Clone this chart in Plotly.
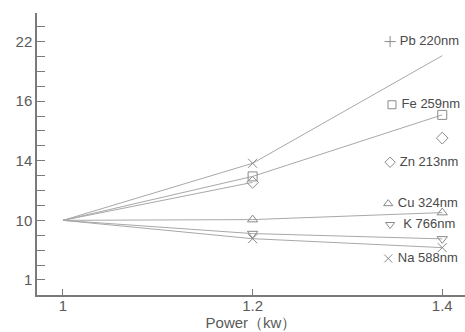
import numpy as np
import plotly.graph_objects as go

# ---- data ----
power = [1.0, 1.2, 1.4]
pb = [10, 13.83, 20.58]
fe = [10, 12.95, 15.54]
zn = [10, 12.55, 14.76]
cu = [10, 10.05, 10.52]
k_ = [10, 8.0, 7.2]
na = [10, 7.23, 5.88]

y_tick_values = [1, 10, 14, 16, 22]
y_tick_labels = ["1", "10", "14", "16", "22"]
x_tick_values = [1.0, 1.2, 1.4]
x_tick_labels = ["1", "1.2", "1.4"]

series_names = ["Pb 220nm", "Fe 259nm", "Zn 213nm", "Cu 324nm", "K 766nm", "Na 588nm"]
series_vals = [pb, fe, zn, cu, k_, na]

# piecewise axis scale (labels are evenly spaced)
pos_idx = list(range(len(y_tick_values)))


def ypos(v):
    return list(np.interp(v, y_tick_values, pos_idx))


LINE = "#a8a8a8"
MARK = "#8a8a8a"
AX = "#7a7a7a"
TXT = "#5a5a5a"
FONT = "Liberation Sans, Arial, sans-serif"

styles = {
    "Pb 220nm": dict(sym="x-thin-open", leg="cross-thin-open", nline=3, mk=[1]),
    "Fe 259nm": dict(sym="square-open", leg="square-open", nline=3, mk=[1, 2]),
    "Zn 213nm": dict(sym="diamond-open", leg="diamond-open", nline=2, mk=[1, 2]),
    "Cu 324nm": dict(sym="triangle-up-open", leg="triangle-up-open", nline=3, mk=[1, 2]),
    "K 766nm": dict(sym="triangle-down-open", leg="triangle-down-open", nline=3, mk=[1, 2]),
    "Na 588nm": dict(sym="x-thin-open", leg="x-thin-open", nline=3, mk=[1, 2]),
}
label_pos = {
    "Pb 220nm": (1.345, 4.0),
    "Fe 259nm": (1.347, 2.94),
    "Zn 213nm": (1.345, 1.975),
    "Cu 324nm": (1.343, 1.28),
    "K 766nm": (1.345, 0.93),
    "Na 588nm": (1.343, 0.36),
}
label_text = {n: (" " + n if n != "K 766nm" else "  " + n) for n in series_names}

fig = go.Figure()
for name, vals in zip(series_names, series_vals):
    st = styles[name]
    yp = ypos(vals)
    n = st["nline"]
    fig.add_trace(go.Scatter(x=power[:n], y=yp[:n], mode="lines",
                             line=dict(color=LINE, width=1), hoverinfo="skip"))
    fig.add_trace(go.Scatter(x=[power[i] for i in st["mk"]], y=[yp[i] for i in st["mk"]],
                             mode="markers",
                             marker=dict(symbol=st["sym"], size=9, color=MARK,
                                         line=dict(color=MARK, width=1))))
    lx, ly = label_pos[name]
    fig.add_trace(go.Scatter(x=[lx], y=[ly], mode="markers+text", text=[label_text[name]],
                             textposition="middle right",
                             textfont=dict(family=FONT, size=13, color="#4a4a4a"),
                             marker=dict(symbol=st["leg"], size=8, color=MARK,
                                         line=dict(color="#666666", width=1)),
                             cliponaxis=False))

fig.update_layout(
    width=465, height=332,
    margin=dict(l=37, r=0, t=13, b=37, autoexpand=False),
    paper_bgcolor="white", plot_bgcolor="white",
    showlegend=False,
    font=dict(family=FONT, size=14, color=TXT),
    xaxis=dict(range=[0.9726, 1.424], tickvals=x_tick_values, ticktext=x_tick_labels,
               automargin=False, ticklabelstandoff=-4,
               ticks="inside", ticklen=6, tickcolor=AX, showgrid=False, zeroline=False,
               showline=True, linecolor=AX, linewidth=1.5,
               tickfont=dict(size=15, color=TXT),
               title=dict(text="Power\uff08kw\uff09", font=dict(size=15, color=TXT), standoff=0)),
    yaxis=dict(range=[-0.253, 4.48], tickvals=pos_idx, ticktext=y_tick_labels,
               automargin=False,
               ticks="inside", ticklen=8, tickcolor=AX, showgrid=False, zeroline=False,
               showline=True, linecolor=AX, linewidth=1.5,
               tickfont=dict(size=15, color=TXT),
               minor=dict(tick0=0, dtick=0.25, ticks="inside", ticklen=8, tickcolor=AX,
                          showgrid=False)),
)

fig.write_html("out.html", config={"displayModeBar": False},
               post_script="document.body.style.margin='0';")
